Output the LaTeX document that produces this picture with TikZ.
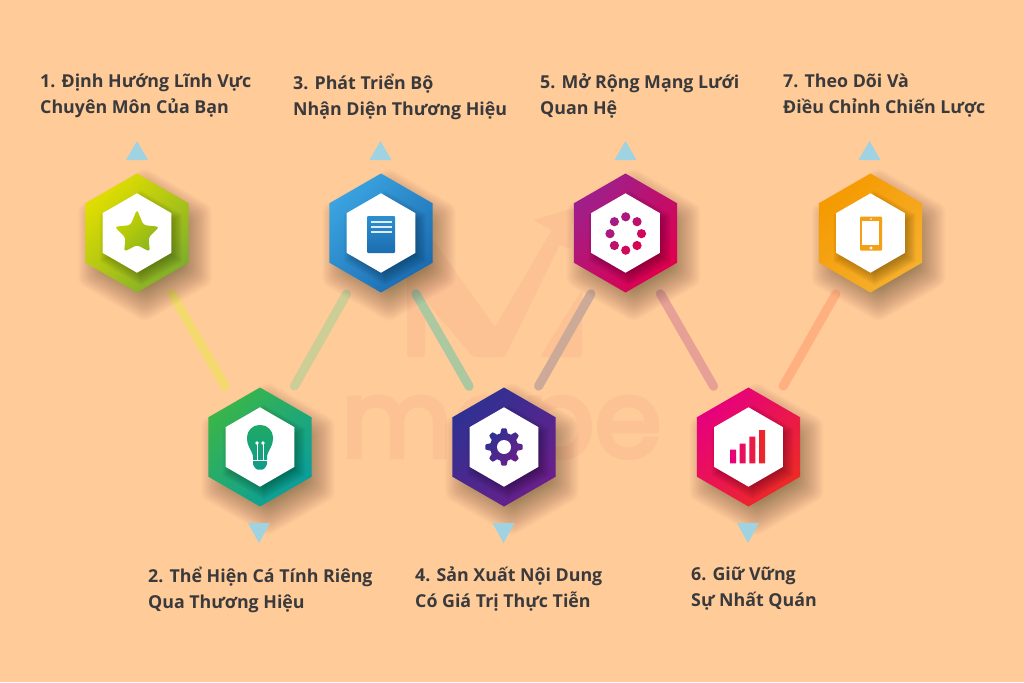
\documentclass[tikz,border=0pt]{standalone}
\usepackage{fontspec}
\setmainfont{Open Sans}
\newfontfamily\wmfont{Poppins}[FakeBold=4]
\usetikzlibrary{shapes.geometric}
\definecolor{bgc}{HTML}{FFCB99}
\definecolor{tri}{HTML}{9FD3E2}
\definecolor{txt}{HTML}{3A3A3C}
\definecolor{wm}{HTML}{FCC294}
\definecolor{la}{HTML}{F3D96E}\definecolor{lb}{HTML}{CDCD96}\definecolor{lc}{HTML}{ACC8A0}
\definecolor{ld}{HTML}{CDAA98}\definecolor{le}{HTML}{E6A096}\definecolor{lf}{HTML}{FFB080}
\definecolor{aA}{HTML}{E0DE00}\definecolor{aB}{HTML}{80AE2A}
\definecolor{bA}{HTML}{39B54A}\definecolor{bB}{HTML}{0A9E9B}
\definecolor{cA}{HTML}{3AA3E0}\definecolor{cB}{HTML}{1B6CB0}
\definecolor{dA}{HTML}{2E3192}\definecolor{dB}{HTML}{6A1F8A}
\definecolor{eA}{HTML}{9E1F8C}\definecolor{eB}{HTML}{E0004D}
\definecolor{fA}{HTML}{E6007E}\definecolor{fB}{HTML}{ED2A24}
\definecolor{gA}{HTML}{F59A00}\definecolor{gB}{HTML}{F5B02E}
\definecolor{stA}{HTML}{C8D400}\definecolor{stB}{HTML}{8DB51F}
\definecolor{buA}{HTML}{1EAA64}\definecolor{buB}{HTML}{0F9B8C}
\definecolor{doA}{HTML}{2D8FD0}\definecolor{doB}{HTML}{1B6DB0}
\definecolor{phc}{HTML}{F5A014}
\tikzset{
  x=1pt,y=-1pt,
  hexnode/.style={regular polygon,regular polygon sides=6,shape border rotate=30,minimum size=119pt,inner sep=0pt,outer sep=0pt},
  conn/.style={line width=9pt,line cap=round,shorten <=70pt,shorten >=70pt},
  lab/.style={align=left,anchor=north west,inner sep=0pt,font=\fontsize{17.8}{26}\selectfont\bfseries,text=txt},
  tip/.style={fill=tri},
}
\newcommand{\hexpath}[1]{({0},{-(#1)}) -- ({.866*(#1)},{-.5*(#1)}) -- ({.866*(#1)},{.5*(#1)}) -- ({0},{#1}) -- ({-.866*(#1)},{.5*(#1)}) -- ({-.866*(#1)},{-.5*(#1)}) -- cycle}
\newcommand{\hexa}[5]{%
  \begin{scope}[shift={(#2,#3)}]
    \foreach \k in {0,...,34}{
      \fill[black,opacity=.011,shift={(8,12)},rounded corners=5pt] \hexpath{40+1.1*\k};
    }
  \end{scope}
  \node[hexnode,left color=#4,right color=#5,shading angle=45] (#1) at (#2,#3) {};
  \begin{scope}[shift={(#2,#3)}]
    \begin{scope}
      \clip \hexpath{59.5};
      \foreach \k in {0,...,15}{
        \fill[black,opacity=.018,shift={(4,5)}] \hexpath{34+.9*\k};
      }
    \end{scope}
    \fill[white] \hexpath{39.7};
  \end{scope}
}
\begin{document}
\begin{tikzpicture}
\useasboundingbox (0,0) rectangle (1024,682);
\fill[bgc] (0,0) rectangle (1024,682);

% watermark
\fill[wm,rounded corners=3pt] (407,240) -- (433,240) -- (495,327) -- (552,230) -- (533,220) -- (574,208) -- (570,250) -- (560,244) -- (505,357) -- (473,357) -- (425,300) -- (425,357) -- (407,357) -- cycle;
\fill[wm,rounded corners=3pt] (540,357) -- (582,290) -- (582,357) -- cycle;
\node[inner sep=0pt,anchor=base west,text=wm,font=\fontsize{108}{108}\selectfont\wmfont] (wmt) at (341,457) {mope};

\coordinate (c1) at (137,233);\coordinate (c2) at (260,447);\coordinate (c3) at (381,233);
\coordinate (c4) at (504,447);\coordinate (c5) at (625.5,233);\coordinate (c6) at (748.5,447);\coordinate (c7) at (870.5,233);
\draw[conn,la] (c1) -- (c2);
\draw[conn,lb] (c3) -- (c2);
\draw[conn,lc] (c3) -- (c4);
\draw[conn,ld] (c5) -- (c4);
\draw[conn,le] (c5) -- (c6);
\draw[conn,lf] (c7) -- (c6);

\hexa{h1}{137}{233}{aA}{aB}
\hexa{h2}{260}{447}{bA}{bB}
\hexa{h3}{381}{233}{cA}{cB}
\hexa{h4}{504}{447}{dA}{dB}
\hexa{h5}{625.5}{233}{eA}{eB}
\hexa{h6}{748.5}{447}{fA}{fB}
\hexa{h7}{870.5}{233}{gA}{gB}

% star
\shade[left color=stA,right color=stB,shading angle=45,rounded corners=3pt,shift={(137,234)}]
 (-90:24.5) -- (-54:11) -- (-18:23.5) -- (18:12) -- (54:22) -- (90:11) -- (126:22) -- (162:12) -- (198:23.5) -- (234:11) -- cycle;

% bulb
\shade[top color=buA,bottom color=buB,rounded corners=1pt]
 (253,458) -- (253,456) .. controls (251.5,450) and (247,446) .. (247,438) .. controls (247,430.8) and (252.8,425) .. (260,425) .. controls (267.2,425) and (273,430.8) .. (273,438) .. controls (273,446) and (268.5,450) .. (267,456) -- (267,458) -- (267,465) -- (263.5,469.5) -- (256.5,469.5) -- (253,465) -- cycle;
\draw[white,line width=1pt] (257,443) -- (257,460) (263,443) -- (263,460);
\draw[white,line width=1pt] (253,460) -- (267,460);
\fill[white] (257,443) circle (1.9) (263,443) circle (1.9);

% document
\shade[top color=doA,bottom color=doB,rounded corners=1pt] (367,216) rectangle (395,253);
\draw[white,opacity=.85,line width=1.2pt] (371,222) -- (392,222) (371,227) -- (392,227) (371,232) -- (392,232);

% dots
\shade[left color=eA,right color=eB,shading angle=45]
 (625.7,216.8) circle (4.6) (637,221.7) circle (4.6) (641.5,233.7) circle (4.6) (637,245.5) circle (4.6)
 (625.7,250.2) circle (4.6) (614.4,245.5) circle (4.6) (610,233.7) circle (4.6) (614.4,221.7) circle (4.6);

% gear
\shade[left color=dA,right color=dB,shading angle=45]
 plot[samples=161,domain=0:360,variable=\t] ({504+(16.3+2.3*max(-1,min(1,2*cos(8*\t))))*cos(\t)},{447+(16.3+2.3*max(-1,min(1,2*cos(8*\t))))*sin(\t)}) -- cycle;
\fill[white] (504,447) circle (7);

% bars
\shade[left color=fA,right color=fB]
 (730,449.7) rectangle (736,463.3) (739.7,443.7) rectangle (745.7,463.3) (749.3,436.7) rectangle (755.3,463.3) (759,430) rectangle (765,463.3);

% phone
\fill[phc,rounded corners=1pt] (860,216.7) rectangle (882,250.7);
\fill[white] (862.3,221) rectangle (879.3,245.3);
\fill[white] (871,248) circle (1.6) (871,219) circle (.8);

% triangles
\fill[tip] (137,141) -- (148,160) -- (126,160) -- cycle;
\fill[tip] (380.5,141) -- (391.5,160) -- (369.5,160) -- cycle;
\fill[tip] (625.5,141) -- (636.5,160) -- (614.5,160) -- cycle;
\fill[tip] (869.5,141) -- (880.5,160) -- (858.5,160) -- cycle;
\fill[tip] (259,543) -- (248,523) -- (270,523) -- cycle;
\fill[tip] (503.5,543) -- (492.5,523) -- (514.5,523) -- cycle;
\fill[tip] (748,543) -- (737,523) -- (759,523) -- cycle;

% labels
\node[lab] (t1) at (40,74) {1. Định Hướng Lĩnh Vực\\Chuyên Môn Của Bạn};
\node[lab] (t3) at (293,74) {3. Phát Triển Bộ\\Nhận Diện Thương Hiệu};
\node[lab] (t5) at (540,74) {5. Mở Rộng Mạng Lưới\\Quan Hệ};
\node[lab] (t7) at (783,74) {7. Theo Dõi Và\\Điều Chỉnh Chiến Lược};
\node[lab] (t2) at (148,567) {2. Thể Hiện Cá Tính Riêng\\Qua Thương Hiệu};
\node[lab] (t4) at (415,567) {4. Sản Xuất Nội Dung\\Có Giá Trị Thực Tiễn};
\node[lab] (t6) at (691,567) {6. Giữ Vững\\Sự Nhất Quán};
\end{tikzpicture}
\end{document}
